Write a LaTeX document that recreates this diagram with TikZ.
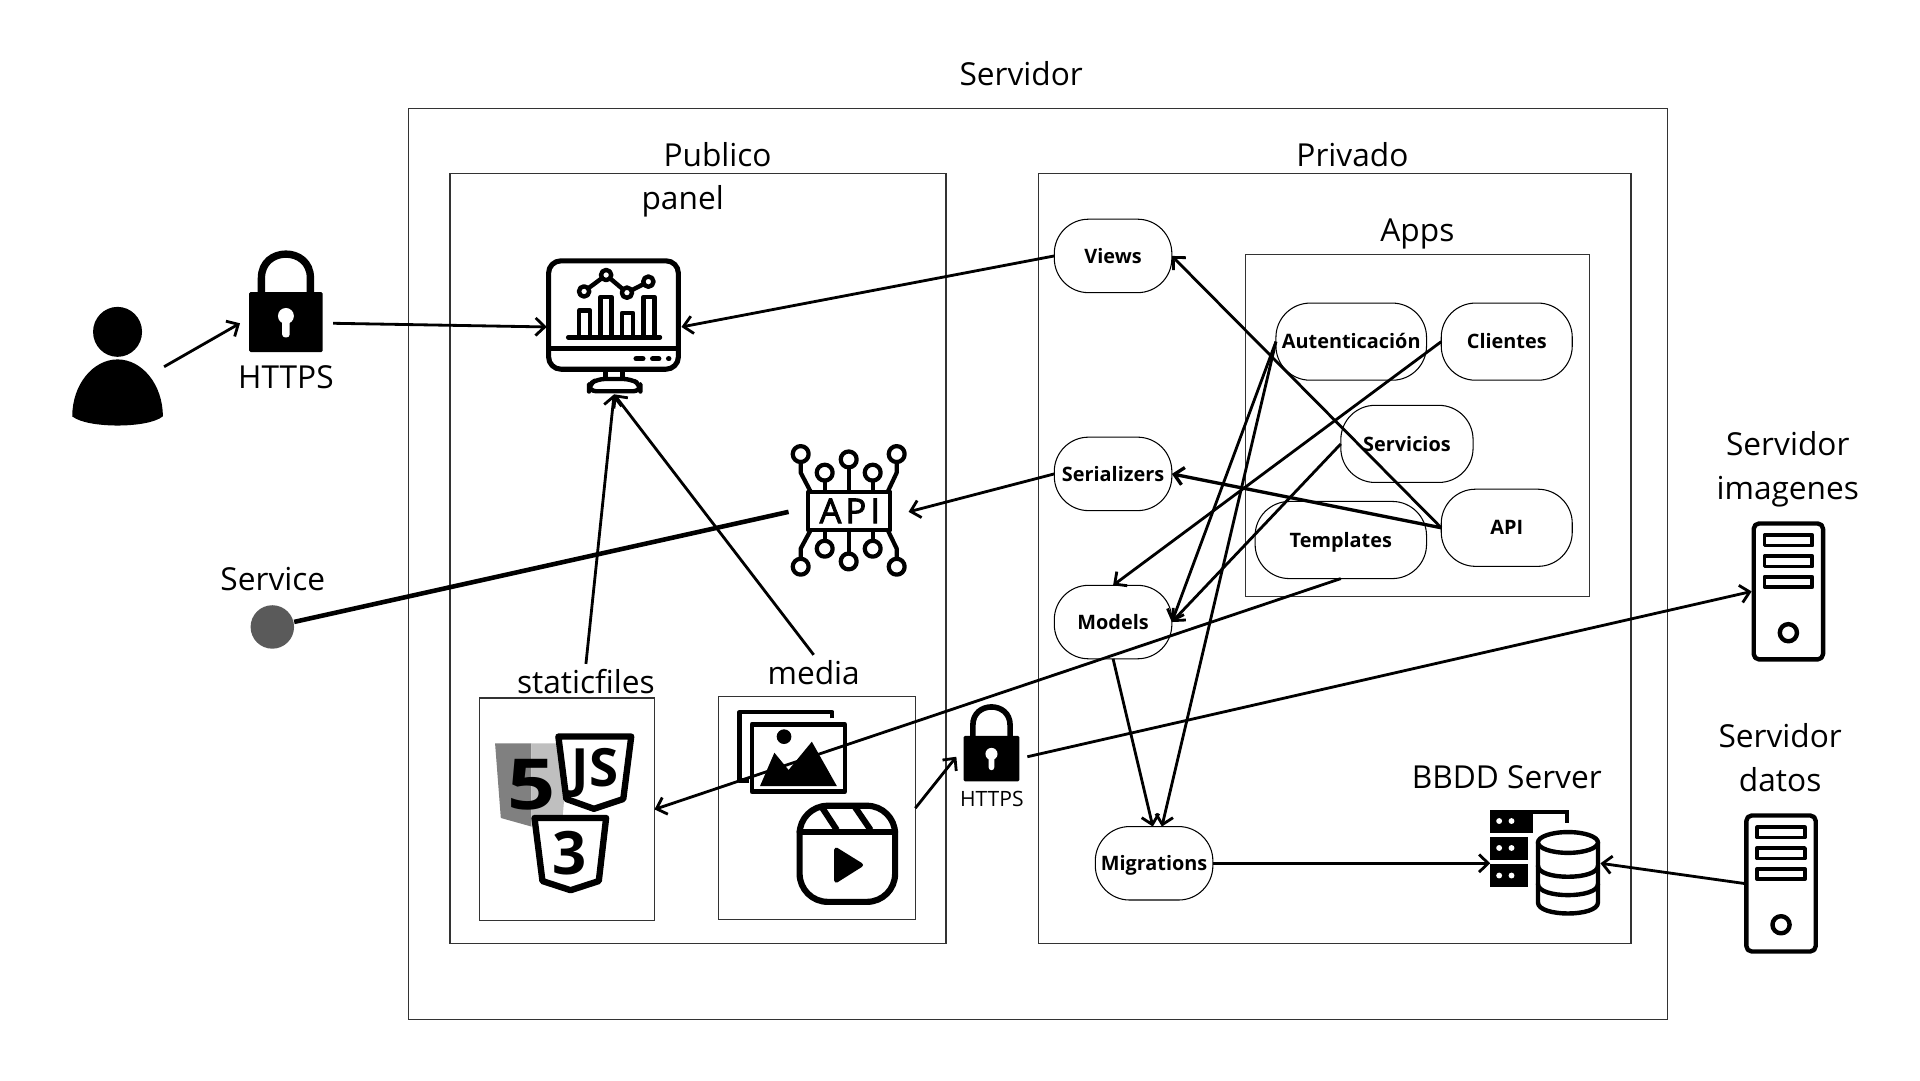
\documentclass[tikz,border=0pt]{standalone}
\usepackage{fontspec}
\setmainfont{Open Sans}
\usetikzlibrary{arrows.meta}

\def\unitpx{0.012245cm}
\definecolor{servicegray}{HTML}{5A5A5A}

\tikzset{
  framebox/.style 2 args={draw=black!80,line width=0.35pt,inner sep=0pt,outer sep=0pt,minimum width=#1*\unitpx,minimum height=#2*\unitpx},
  capsule/.style 2 args={draw=black,line width=0.3pt,rounded corners=28*\unitpx,inner sep=0pt,outer sep=0pt,text height=4.1pt,text depth=0pt,minimum width=#1*\unitpx,minimum height=#2*\unitpx,font=\fontsize{5.65}{7}\selectfont\bfseries},
  iconbox/.style 2 args={inner sep=0pt,outer sep=0pt,minimum width=#1*\unitpx,minimum height=#2*\unitpx},
  biglabel/.style={inner sep=0pt,outer sep=1.5pt,align=center,font=\fontsize{9}{12.5}\selectfont},
  connector/.style={->,line width=0.8pt},
  iconline/.style={draw=black,line width=1.25pt,line join=round,line cap=round},
  shieldicon/.style={draw=black,fill=white,line width=1.8pt,line join=round},
  lockicon/.pic={
    \draw[black,line width=#1] (-20,-22) -- (-20,-36) .. controls (-20,-62) and (20,-62) .. (20,-36) -- (20,-22);
    \fill[black,rounded corners=0.4pt] (-30,-24.5) rectangle (30,24.5);
    \fill[white] (0,-5) circle [radius=6.5];
    \fill[white,rounded corners=0.8pt] (-3,-5) rectangle (3,12.5);
  },
  servericon/.pic={
    \draw[iconline,rounded corners=1.5pt] (-28.3,-55.5) rectangle (28.3,55.5);
    \draw[iconline,line width=1.05pt] (-19.5,-46) rectangle (19.5,-37.5);
    \draw[iconline,line width=1.05pt] (-19.5,-29) rectangle (19.5,-20.5);
    \draw[iconline,line width=1.05pt] (-19.5,-12) rectangle (19.5,-3.5);
    \draw[iconline] (0,33.7) circle [radius=7];
  }
}

\begin{document}
\begin{tikzpicture}[x=\unitpx,y=-\unitpx,>={Straight Barb[length=2.6pt,width=5pt]}]

\useasboundingbox (0,0) rectangle (1568,882);

\node[framebox={1028}{744}] (servidorbox) at (847.5,460.5) {};
\node[framebox={405}{629}] (publicobox) at (570,456) {};
\node[framebox={484}{629}] (privadobox) at (1090,456) {};
\node[framebox={281}{279}] (appsbox) at (1157.5,347.5) {};
\node[framebox={143}{182}] (staticbox) at (463,661) {};
\node[framebox={161}{182}] (mediabox) at (667,660) {};

\node[biglabel] (servidorlabel) at (834,60) {Servidor};
\node[biglabel] (publicolabel) at (586,126) {Publico};
\node[biglabel] (panellabel) at (557.5,164) {panel};
\node[biglabel] (privadolabel) at (1104.5,126) {Privado};
\node[biglabel] (appslabel) at (1157.5,191) {Apps};
\node[biglabel] (httpslabel) at (233.5,308) {HTTPS};
\node[biglabel] (servicelabel) at (222.8,473) {Service};
\node[biglabel] (staticlabel) at (478.5,556.5) {staticfiles};
\node[biglabel] (medialabel) at (664.5,549) {media};
\node[biglabel,font=\fontsize{6}{7}\selectfont] (httpssmall) at (810,652.5) {HTTPS};
\node[biglabel] (bbddlabel) at (1230.5,635) {BBDD Server};
\node[biglabel] (imageneslabel) at (1460,383) {Servidor\\imagenes};
\node[biglabel] (datoslabel) at (1453.8,619) {Servidor\\datos};

\node[capsule={96}{60}] (views) at (909,209) {Views};
\node[capsule={96}{60}] (serializers) at (909,387) {Serializers};
\node[capsule={96}{60}] (models) at (909,508) {Models};
\node[capsule={96}{60}] (migrations) at (942.5,705) {Migrations};
\node[capsule={123}{63}] (autenticacion) at (1103.5,279) {Autenticación};
\node[capsule={107}{63}] (clientes) at (1230.5,279) {Clientes};
\node[capsule={108}{63}] (servicios) at (1149,362.5) {Servicios};
\node[capsule={140}{63}] (templates) at (1095,441) {Templates};
\node[capsule={107}{63}] (apinode) at (1230.5,431) {API};

\node[iconbox={76}{98}] (usericon) at (96,299.5) {};
\node[iconbox={76}{82}] (lockuser) at (234,264) {};
\node[iconbox={110}{110}] (dashboard) at (501.5,267) {};
\node[iconbox={98}{100}] (apiicon) at (693,418) {};
\node[circle,fill=servicegray,inner sep=0pt,minimum size=35.5*\unitpx] (service) at (222.4,512) {};
\node[iconbox={58}{62}] (lockmedia) at (810,618) {};
\node[iconbox={60}{114}] (serverimagenes) at (1460.5,483) {};
\node[iconbox={60}{114}] (serverdatos) at (1454.5,721.5) {};
\node[iconbox={90}{86}] (database) at (1262,705) {};

\fill[black] (96,271) ellipse [x radius=20,y radius=20.4];
\fill[black] (59,340) .. controls (59,314) and (76,293.5) .. (96,293.5) .. controls (116,293.5) and (133,314) .. (133,340) .. controls (121,350) and (71,350) .. cycle;

\pic at (233.5,263) {lockicon=2.1pt};
\pic[scale=0.76] at (809.7,619.5) {lockicon=1.6pt};

\draw[iconline,line width=1.45pt,rounded corners=3.5pt] (448,213) rectangle (554,301.5);
\draw[iconline,line width=1.45pt] (448,284.5) -- (554,284.5);
\draw[iconline] (464,275.5) -- (539,275.5);
\draw[iconline,line cap=butt] (473,275.5) -- (473,253.5) -- (482,253.5) -- (482,275.5);
\draw[iconline,line cap=butt] (490.5,275.5) -- (490.5,242.5) -- (499.5,242.5) -- (499.5,275.5);
\draw[iconline,line cap=butt] (508,275.5) -- (508,255.5) -- (517,255.5) -- (517,275.5);
\draw[iconline,line cap=butt] (525.5,275.5) -- (525.5,242.5) -- (534.5,242.5) -- (534.5,275.5);
\draw[iconline] (477,238) -- (495,224.6) -- (512,239) -- (529.5,230);
\filldraw[iconline,fill=white] (477,238) circle [radius=4.2];
\filldraw[iconline,fill=white] (495,224.6) circle [radius=4.2];
\filldraw[iconline,fill=white] (512,239) circle [radius=4.2];
\filldraw[iconline,fill=white] (529.5,230) circle [radius=4.2];
\draw[iconline,line width=1.5pt] (519.5,293) -- (525,293);
\draw[iconline,line width=1.5pt] (533,293) -- (538,293);
\draw[iconline,line width=1.5pt] (546,293) -- (546.2,293);
\draw[iconline] (494.5,303) -- (494.5,309);
\draw[iconline] (508.5,303) -- (508.5,309);
\draw[iconline,rounded corners=2pt] (481,319.5) -- (481,314) -- (488,309.5) -- (515,309.5) -- (523,314) -- (523,319.5) -- cycle;

\draw[iconline,line width=1.2pt] (660,401.5) rectangle (727,433);
\draw[iconline,line width=1.2pt] (653.9,370.8) circle [radius=6.5];
\draw[iconline,line width=1.2pt] (673.5,386) circle [radius=6.5];
\draw[iconline,line width=1.2pt] (693.1,375.2) circle [radius=6.5];
\draw[iconline,line width=1.2pt] (712.7,386) circle [radius=6.5];
\draw[iconline,line width=1.2pt] (732.3,370.8) circle [radius=6.5];
\draw[iconline,line width=1.2pt] (653.9,462.8) circle [radius=6.5];
\draw[iconline,line width=1.2pt] (673.5,448.1) circle [radius=6.5];
\draw[iconline,line width=1.2pt] (693.1,458.5) circle [radius=6.5];
\draw[iconline,line width=1.2pt] (712.7,448.1) circle [radius=6.5];
\draw[iconline,line width=1.2pt] (732.3,462.8) circle [radius=6.5];
\draw[iconline,line width=1.2pt] (653.9,377.3) -- (653.9,386) -- (662,401.5);
\draw[iconline,line width=1.2pt] (673.5,392.5) -- (673.5,401.5);
\draw[iconline,line width=1.2pt] (693.1,381.7) -- (693.1,401.5);
\draw[iconline,line width=1.2pt] (712.7,392.5) -- (712.7,401.5);
\draw[iconline,line width=1.2pt] (732.3,377.3) -- (732.3,386) -- (725,401.5);
\draw[iconline,line width=1.2pt] (653.9,456.3) -- (653.9,448) -- (662,433);
\draw[iconline,line width=1.2pt] (673.5,441.6) -- (673.5,433);
\draw[iconline,line width=1.2pt] (693.1,452) -- (693.1,433);
\draw[iconline,line width=1.2pt] (712.7,441.6) -- (712.7,433);
\draw[iconline,line width=1.2pt] (732.3,456.3) -- (732.3,448) -- (725,433);
\node[inner sep=0pt,font=\fontsize{9.8}{11}\selectfont\addfontfeature{LetterSpace=12,FakeBold=2.5}] (apitext) at (694,417.2) {API};

\fill[black!50] (404.3,607) -- (434,607) -- (434,675) -- (409,668) -- cycle;
\fill[black!25] (434,607) -- (464.7,607) -- (459.4,668) -- (434,675) -- cycle;
\node[inner sep=0pt,xscale=1.2,font=\fontsize{20}{22}\selectfont\bfseries] (htmltext) at (434,641) {5};
\draw[shieldicon] (456,601.5) -- (515.5,601.5) -- (509,652.5) -- (485,660.5) -- (462.5,652.5) -- cycle;
\node[inner sep=0pt,font=\fontsize{15}{17}\selectfont\bfseries] (jstext) at (486,631) {JS};
\draw[shieldicon] (436.5,668) -- (495,668) -- (489,719.5) -- (466,727) -- (443,719.5) -- cycle;
\node[inner sep=0pt,font=\fontsize{17}{19}\selectfont\bfseries] (csstext) at (465,697) {3};

\draw[iconline,line cap=butt] (679.7,586.6) -- (679.7,581.5) -- (604,581.5) -- (604,637.5) -- (612,637.5);
\draw[iconline] (614,591.5) rectangle (690,646.5);
\fill[black] (640.3,601.6) circle [radius=6];
\fill[black] (620.7,641.9) -- (632.4,614.7) -- (644,628.8) -- (663,605.7) -- (683.4,641.9) -- cycle;

\draw[iconline,line width=1.75pt,rounded corners=8pt] (653,658) rectangle (731,736.5);
\draw[iconline,line width=1.75pt] (653,679.2) -- (731,679.2);
\draw[iconline,line width=1.75pt,line cap=butt] (670.9,658.8) -- (683.4,677.8);
\draw[iconline,line width=1.75pt,line cap=butt] (698,658.8) -- (711,677.8);
\filldraw[iconline,fill=black] (683,694) -- (683,719) -- (703,706.4) -- cycle;

\pic at (serverimagenes) {servericon};
\pic at (serverdatos) {servericon};

\fill[black] (1217,661.5) rectangle (1252,680);
\fill[black] (1217,683.3) rectangle (1247.5,702.4);
\fill[black] (1217,705.9) rectangle (1247.5,724.7);
\draw[black,line width=1.15pt] (1250,663.2) -- (1280,663.2) -- (1280,672);
\fill[white] (1224.3,670.5) circle [radius=2.4];
\fill[white] (1234.4,670.5) circle [radius=2.4];
\fill[white] (1224.3,692.5) circle [radius=2.4];
\fill[white] (1234.4,692.5) circle [radius=2.4];
\fill[white] (1224.3,715) circle [radius=2.4];
\fill[white] (1234.4,715) circle [radius=2.4];
\filldraw[iconline,fill=white] (1256,688) -- (1256,737) .. controls (1256,749) and (1305,749) .. (1305,737) -- (1305,688) -- cycle;
\filldraw[iconline,fill=white] (1280.5,688) ellipse [x radius=24.5,y radius=8.5];
\draw[iconline] (1256,707) .. controls (1256,719) and (1305,719) .. (1305,707);
\draw[iconline] (1256,722) .. controls (1256,734) and (1305,734) .. (1305,722);

\draw[connector] (usericon.east) -- (lockuser.west);
\draw[connector] (lockuser.east) -- (dashboard.west);
\draw[connector] (views.west) -- (dashboard.east);
\draw[connector] (serializers.west) -- (apiicon.east);
\draw[line width=1.3pt] (apiicon.west) -- (service.13);
\draw[connector] (staticlabel.north) -- (dashboard.south);
\draw[connector] (medialabel.north) -- (dashboard.south);
\draw[connector] (apinode.west) -- (views.east);
\draw[connector,line width=0.95pt] (apinode.west) -- (serializers.east);
\draw[connector] (clientes.west) -- (models.north);
\draw[connector] (autenticacion.west) -- (models.east);
\draw[connector] (autenticacion.west) -- (migrations.78);
\draw[connector] (servicios.west) -- (models.east);
\draw[connector] (models.south) -- (migrations.92);
\draw[connector] (templates.south) -- (staticbox.east);
\draw[connector] (mediabox.east) -- (lockmedia.west);
\draw[connector] (lockmedia.east) -- (serverimagenes.west);
\draw[connector] (migrations.east) -- (database.west);
\draw[connector] (serverdatos.west) -- (database.east);

\end{tikzpicture}
\end{document}
